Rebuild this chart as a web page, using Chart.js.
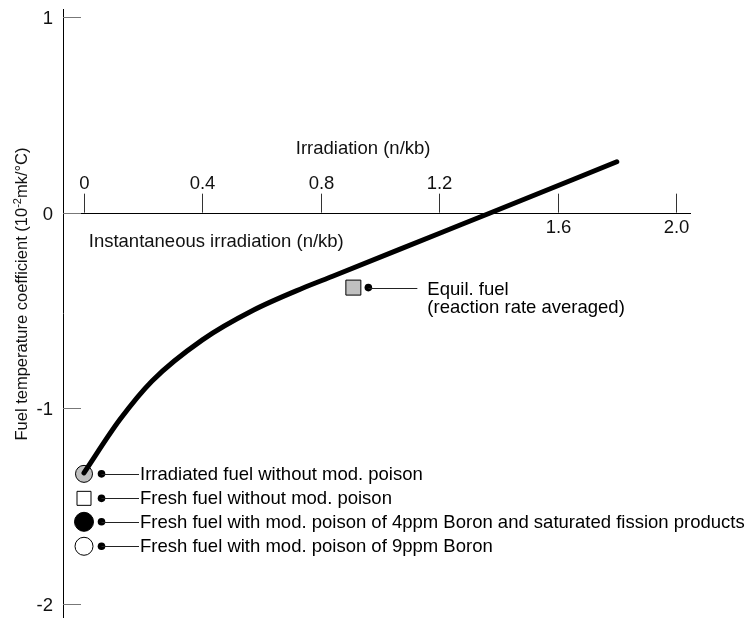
<!DOCTYPE html>
<html>
<head>
<meta charset="utf-8">
<script src="https://cdn.jsdelivr.net/npm/chart.js@4/dist/chart.umd.min.js"></script>
<style>
  html, body { margin: 0; padding: 0; background: #ffffff; }
  canvas { display: block; }
</style>
</head>
<body>
<canvas id="c" width="753" height="618"></canvas>
<script>
// ---- data ----
const irradiation    = [0, 0.12, 0.23, 0.40, 0.57, 0.74, 0.84, 1.21, 1.37, 1.80];
const fuelTempCoeff  = [-1.33, -1.06, -0.86, -0.65, -0.50, -0.385, -0.325, -0.10, -0.003, 0.26];

const caseLabels = [
  'Irradiated fuel without mod. poison',
  'Fresh fuel without mod. poison',
  'Fresh fuel with mod. poison of 4ppm Boron and saturated fission products',
  'Fresh fuel with mod. poison of 9ppm Boron'
];
const caseIrradiation = [0, 0, 0, 0];
const caseValues      = [-1.335, -1.46, -1.58, -1.705];

const equilIrradiation = [0.91];
const equilValue       = [-0.383];
const equilLabel       = ['Equil. fuel', '(reaction rate averaged)'];

const topTickLabels    = [0, 0.4, 0.8, 1.2];
const bottomTickLabels = [1.6, 2.0];
const yTickLabels      = [1, 0, -1, -2];

const xTitleTop    = 'Irradiation (n/kb)';
const xTitleBottom = 'Instantaneous irradiation (n/kb)';

// ---- build datasets ----
const FONT = '"Liberation Sans", Arial, Helvetica, sans-serif';
const FS = 18.5;
const curve = irradiation.map((x, i) => ({ x, y: fuelTempCoeff[i] }));
const pt = (i) => [{ x: caseIrradiation[i], y: caseValues[i] }];

const datasets = [
  { label: 'curve', data: curve, showLine: true, borderColor: '#000', borderWidth: 5,
    borderCapStyle: 'round', borderJoinStyle: 'round', cubicInterpolationMode: 'monotone',
    pointRadius: 0, order: 0 },
  { label: caseLabels[0], data: pt(0), pointStyle: 'circle', pointRadius: 8.5,
    backgroundColor: '#c0c0c0', borderColor: '#000', borderWidth: 1, order: 1 },
  { label: caseLabels[1], data: pt(1), pointStyle: 'rect', pointRadius: 9.9,
    backgroundColor: '#fff', borderColor: '#000', borderWidth: 1, order: 1 },
  { label: caseLabels[2], data: pt(2), pointStyle: 'circle', pointRadius: 9.5,
    backgroundColor: '#000', borderColor: '#000', borderWidth: 1, order: 1 },
  { label: caseLabels[3], data: pt(3), pointStyle: 'circle', pointRadius: 9,
    backgroundColor: '#fff', borderColor: '#000', borderWidth: 1, order: 1 },
  { label: equilLabel[0], data: [{ x: equilIrradiation[0], y: equilValue[0] }], pointStyle: 'rect',
    pointRadius: 10.6, backgroundColor: '#c0c0c0', borderColor: '#000', borderWidth: 1, order: 1 }
];

function dot(ctx, x, y, r) {
  ctx.beginPath(); ctx.arc(x, y, r, 0, Math.PI * 2); ctx.fillStyle = '#000'; ctx.fill();
}

const axesPlugin = {
  id: 'axesPlugin',
  beforeDatasetsDraw(chart) {
    const ctx = chart.ctx, xs = chart.scales.x, ys = chart.scales.y, a = chart.chartArea;
    const y0 = ys.getPixelForValue(0);
    ctx.save();
    ctx.lineWidth = 1;
    // y axis line
    ctx.strokeStyle = '#000';
    ctx.beginPath(); ctx.moveTo(a.left + 0.5, a.top); ctx.lineTo(a.left + 0.5, a.bottom); ctx.stroke();
    // x axis line at y = 0
    ctx.beginPath(); ctx.moveTo(a.left, Math.round(y0) + 0.5); ctx.lineTo(a.right, Math.round(y0) + 0.5); ctx.stroke();
    // y ticks
    ctx.strokeStyle = '#777';
    ctx.font = FS + 'px ' + FONT;
    ctx.fillStyle = '#111';
    ctx.textAlign = 'right'; ctx.textBaseline = 'middle';
    yTickLabels.forEach(v => {
      const py = Math.round(ys.getPixelForValue(v)) + 0.5;
      ctx.beginPath(); ctx.moveTo(a.left, py); ctx.lineTo(a.left + 18, py); ctx.stroke();
      ctx.fillText(String(v), a.left - 10, py + 1);
    });
    // x ticks (upward from axis)
    ctx.strokeStyle = '#333';
    ctx.textAlign = 'center';
    ctx.textBaseline = 'alphabetic';
    topTickLabels.forEach(v => {
      const px = Math.round(xs.getPixelForValue(v)) + 0.5;
      ctx.beginPath(); ctx.moveTo(px, y0 - 19); ctx.lineTo(px, y0); ctx.stroke();
      ctx.fillText(String(v), px, y0 - 24);
    });
    bottomTickLabels.forEach(v => {
      const px = Math.round(xs.getPixelForValue(v)) + 0.5;
      ctx.beginPath(); ctx.moveTo(px, y0 - 19); ctx.lineTo(px, y0); ctx.stroke();
      ctx.fillText(v.toFixed(1), px, y0 + 20);
    });
    // titles
    ctx.textAlign = 'center';
    ctx.fillText(xTitleTop, xs.getPixelForValue(0.943), y0 - 59);
    ctx.textAlign = 'left';
    ctx.fillText(xTitleBottom, xs.getPixelForValue(0.016), y0 + 34);
    // y title (rotated, with superscript)
    const p1 = 'Fuel temperature coefficient (10', sup = '-2', p2 = 'mk/\u00B0C)';
    const TF = 16.5, SF = 11;
    ctx.font = TF + 'px ' + FONT;
    const w1 = ctx.measureText(p1).width, w3 = ctx.measureText(p2).width;
    ctx.font = SF + 'px ' + FONT;
    const w2 = ctx.measureText(sup).width;
    const total = w1 + w2 + w3;
    ctx.translate(27, 294);
    ctx.rotate(-Math.PI / 2);
    ctx.textAlign = 'left';
    let sx = -total / 2;
    ctx.font = TF + 'px ' + FONT; ctx.fillText(p1, sx, 0); sx += w1;
    ctx.font = SF + 'px ' + FONT; ctx.fillText(sup, sx, -6.5); sx += w2;
    ctx.font = TF + 'px ' + FONT; ctx.fillText(p2, sx, 0);
    ctx.restore();
  },
  afterDatasetsDraw(chart) {
    const ctx = chart.ctx, xs = chart.scales.x, ys = chart.scales.y;
    ctx.save();
    ctx.font = FS + 'px ' + FONT;
    ctx.fillStyle = '#111';
    ctx.strokeStyle = '#222';
    ctx.lineWidth = 1;
    ctx.textAlign = 'left'; ctx.textBaseline = 'middle';
    caseLabels.forEach((lab, i) => {
      const px = xs.getPixelForValue(caseIrradiation[i]);
      const py = ys.getPixelForValue(caseValues[i]);
      dot(ctx, px + 17.5, py, 3.8);
      ctx.beginPath(); ctx.moveTo(px + 17.5, Math.round(py) + 0.5); ctx.lineTo(px + 55, Math.round(py) + 0.5); ctx.stroke();
      ctx.fillText(lab, px + 56, py + 1);
    });
    const ex = xs.getPixelForValue(equilIrradiation[0]);
    const ey = ys.getPixelForValue(equilValue[0]);
    dot(ctx, ex + 15, ey, 3.8);
    ctx.beginPath(); ctx.moveTo(ex + 15, Math.round(ey) + 0.5); ctx.lineTo(ex + 64, Math.round(ey) + 0.5); ctx.stroke();
    ctx.textBaseline = 'alphabetic';
    ctx.fillText(equilLabel[0], ex + 74, ey + 7);
    ctx.fillText(equilLabel[1], ex + 74, ey + 25);
    ctx.restore();
  }
};

new Chart(document.getElementById('c'), {
  type: 'scatter',
  data: { datasets },
  options: {
    responsive: false,
    devicePixelRatio: 1,
    animation: false,
    layout: { autoPadding: false, padding: { left: 63, right: 62, top: 9, bottom: 0 } },
    plugins: { legend: { display: false }, tooltip: { enabled: false }, title: { display: false } },
    scales: {
      x: { type: 'linear', display: false, min: -0.07095, max: 2.0507 },
      y: { type: 'linear', display: false, min: -2.0716, max: 1.0409 }
    },
    clip: false
  },
  plugins: [axesPlugin]
});
</script>
</body>
</html>
